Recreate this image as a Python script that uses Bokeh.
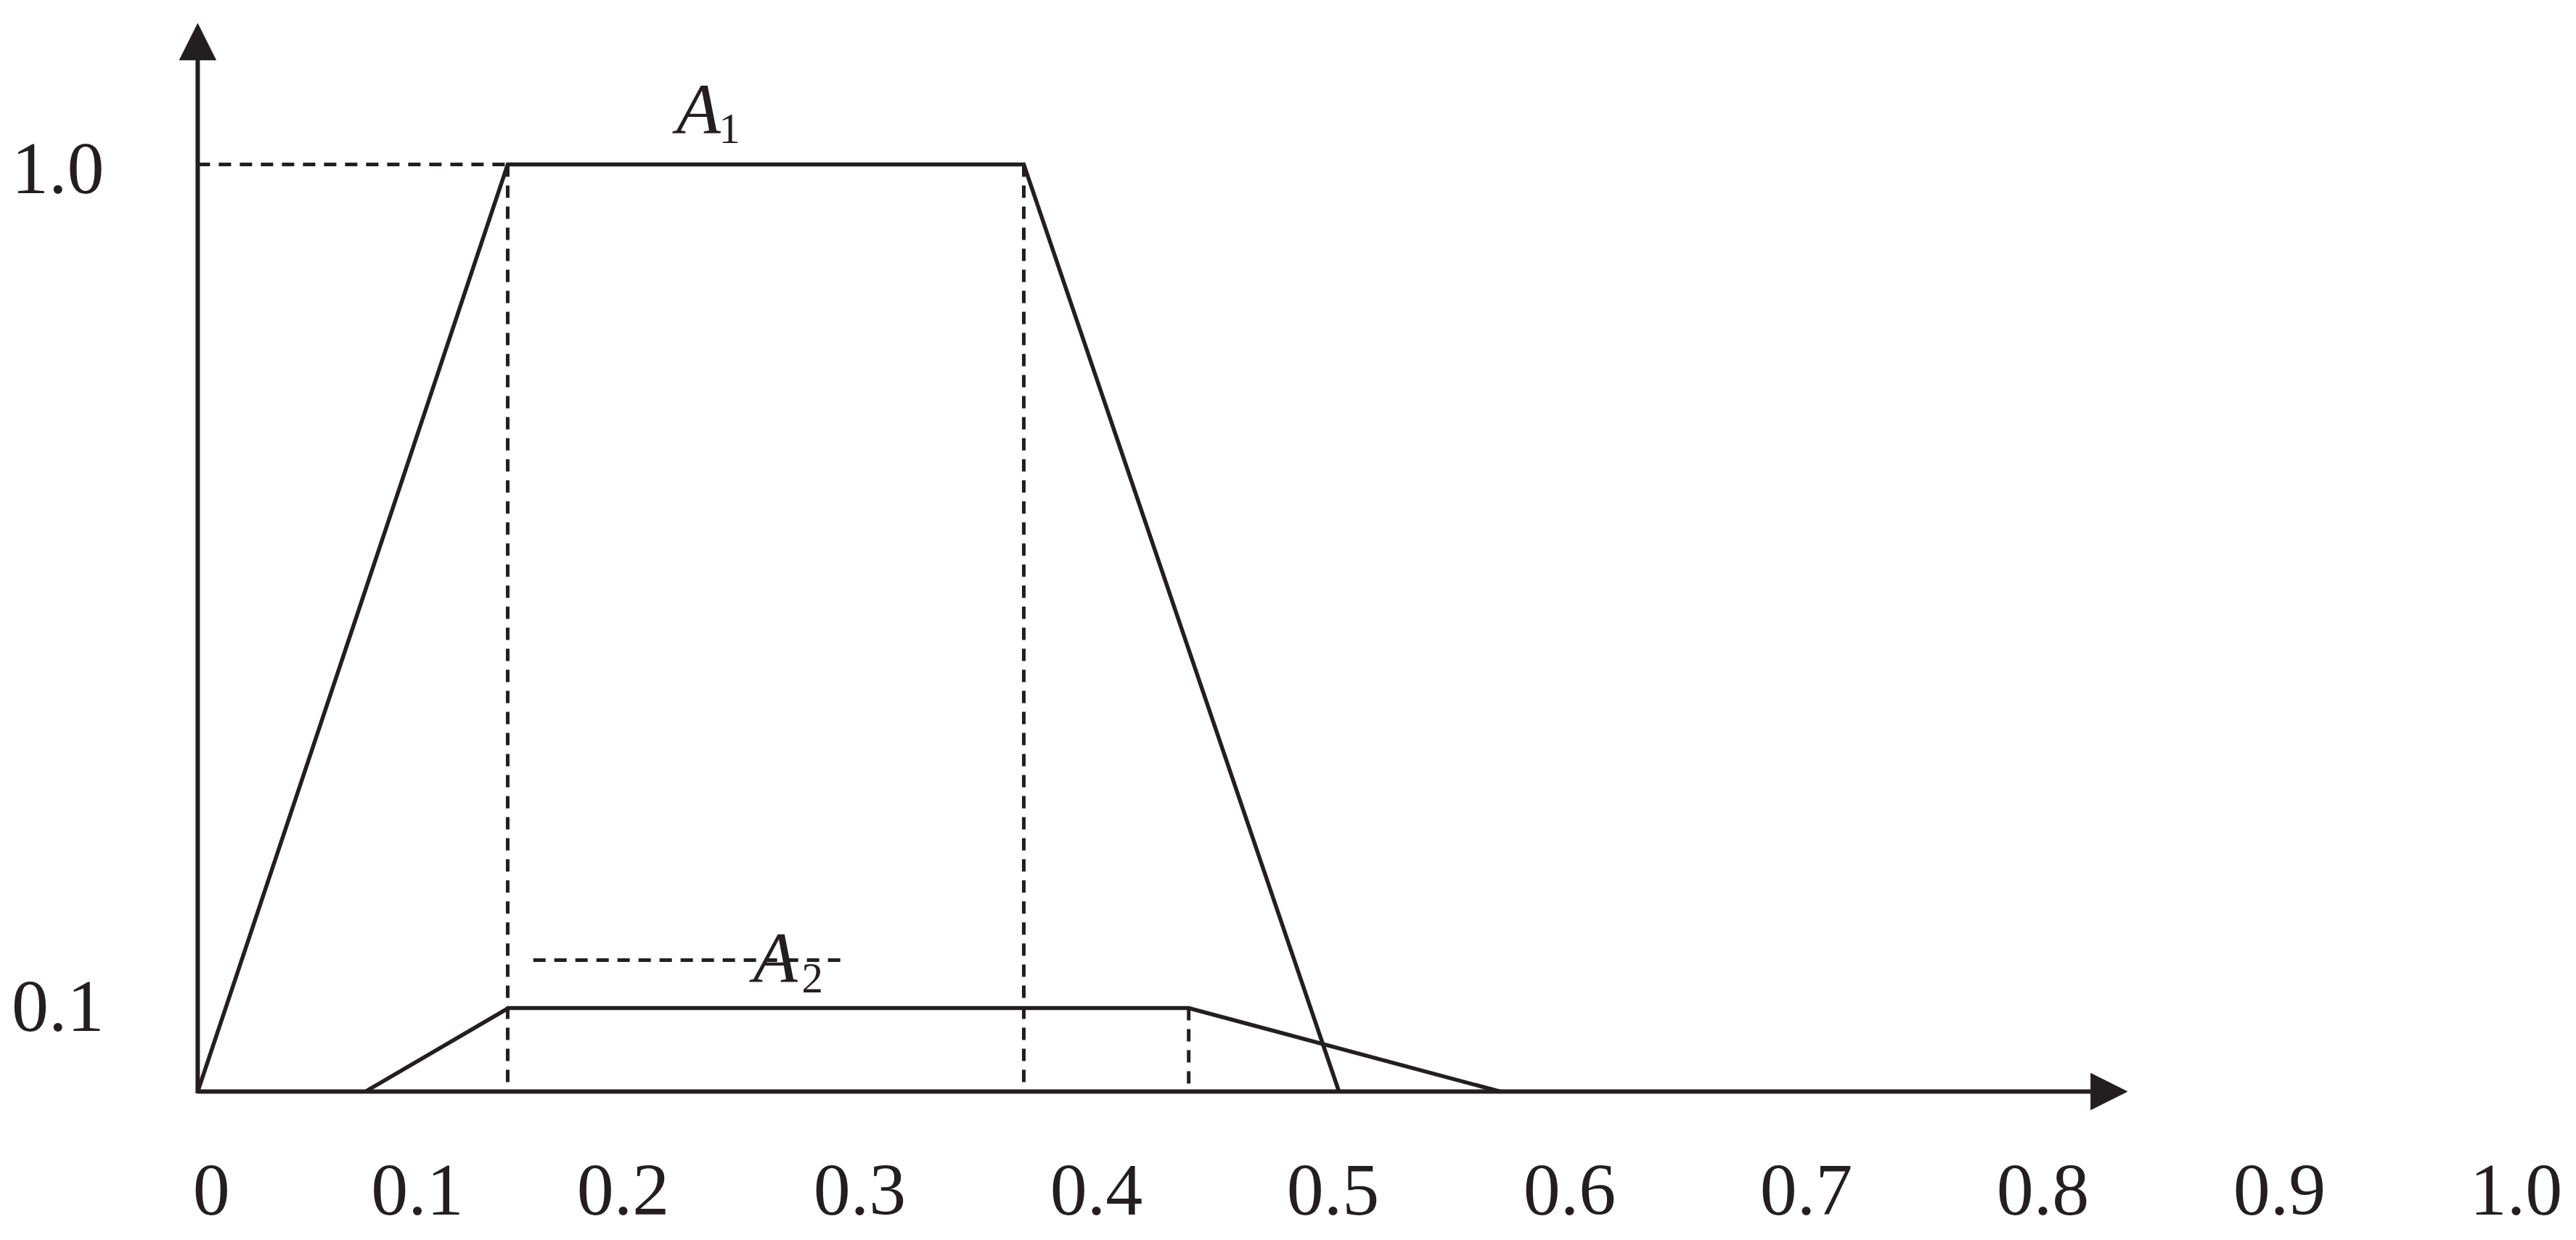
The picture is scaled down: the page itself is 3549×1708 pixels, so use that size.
from bokeh.plotting import figure
from bokeh.models import Range1d, Arrow, NormalHead
from bokeh.core.properties import value
from bokeh.embed import file_html
from bokeh.resources import INLINE

# ---- data ----
origin_x = 0.0202                      # where the membership axis sits
a1_x = [0.0202, 0.1512, 0.3693, 0.5025]  # trapezoid A1 break points
a1_y = [0.0, 1.0, 1.0, 0.0]
a2_x = [0.0911, 0.1515, 0.4390, 0.5706]  # trapezoid A2 break points
a2_y = [0.0, 0.090, 0.090, 0.0]

x_tick_labels = ["0", "0.1", "0.2", "0.3", "0.4", "0.5", "0.6", "0.7", "0.8", "0.9", "1.0"]
x_tick_pos = [0.026, 0.113, 0.2, 0.3, 0.4, 0.5, 0.6, 0.7, 0.8, 0.9, 1.0]
y_tick_labels = ["0.1", "1.0"]
y_tick_pos = [0.092, 0.995]

set_names = ["A", "A"]
set_subs = ["1", "2"]

INK = "#231f20"
FONT = value("Liberation Serif")

p = figure(width=3545, height=1704,
           x_range=Range1d(-0.0632, 1.0242), y_range=Range1d(-0.1574, 1.1770),
           output_backend="svg", toolbar_location=None, min_border=0,
           x_axis_location=None, y_axis_location=None)
p.title.visible = False
p.grid.visible = False
p.outline_line_color = None
p.background_fill_color = "white"
p.border_fill_color = "white"

# axes with arrow heads
p.add_layout(Arrow(end=NormalHead(size=50, fill_color=INK, line_color=INK, line_width=1),
                   x_start=origin_x, y_start=0, x_end=0.8356, y_end=0,
                   line_color=INK, line_width=6))
p.add_layout(Arrow(end=NormalHead(size=50, fill_color=INK, line_color=INK, line_width=1),
                   x_start=origin_x, y_start=-0.002, x_end=origin_x, y_end=1.1519,
                   line_color=INK, line_width=6))

# dashed guide lines derived from the trapezoid break points
dash = "17 12"
p.segment(x0=[origin_x], y0=[a1_y[1]], x1=[a1_x[1]], y1=[a1_y[1]],
          line_color=INK, line_width=5, line_dash=dash)
p.segment(x0=[a1_x[1], a1_x[2], a2_x[2]], y0=[a1_y[1], a1_y[2], a2_y[2]],
          x1=[a1_x[1], a1_x[2], a2_x[2]], y1=[0, 0, 0],
          line_color=INK, line_width=5, line_dash=dash)
# dashed stroke beneath the A2 label
p.segment(x0=[0.162], y0=[0.1417], x1=[0.2926], y1=[0.1417],
          line_color=INK, line_width=5, line_dash=dash)

# membership functions
p.line(a1_x, a1_y, line_color=INK, line_width=5.5, line_join="miter")
p.line(a2_x, a2_y, line_color=INK, line_width=5.5, line_join="miter")

# tick labels
p.text(x=x_tick_pos, y=-0.1065, text=x_tick_labels, text_font=FONT,
       text_font_size="102px", text_color=INK, text_align="center", text_baseline="middle")
p.text(x=-0.0193, y=y_tick_pos, text=y_tick_labels, text_font=FONT,
       text_font_size="102px", text_color=INK, text_align="right", text_baseline="middle")

# set labels A1, A2 with subscripts
p.text(x=[0.2318, 0.2643], y=[1.0595, 0.1441], text=set_names, text_font=FONT,
       text_font_style="italic", text_font_size="100px", text_color=INK,
       text_align="center", text_baseline="alphabetic")
p.text(x=[0.2450, 0.2800], y=[1.0384, 0.1222], text=set_subs, text_font=FONT,
       text_font_size="59px", text_color=INK,
       text_align="center", text_baseline="alphabetic")

open("out.html", "w").write(file_html(p, INLINE))
